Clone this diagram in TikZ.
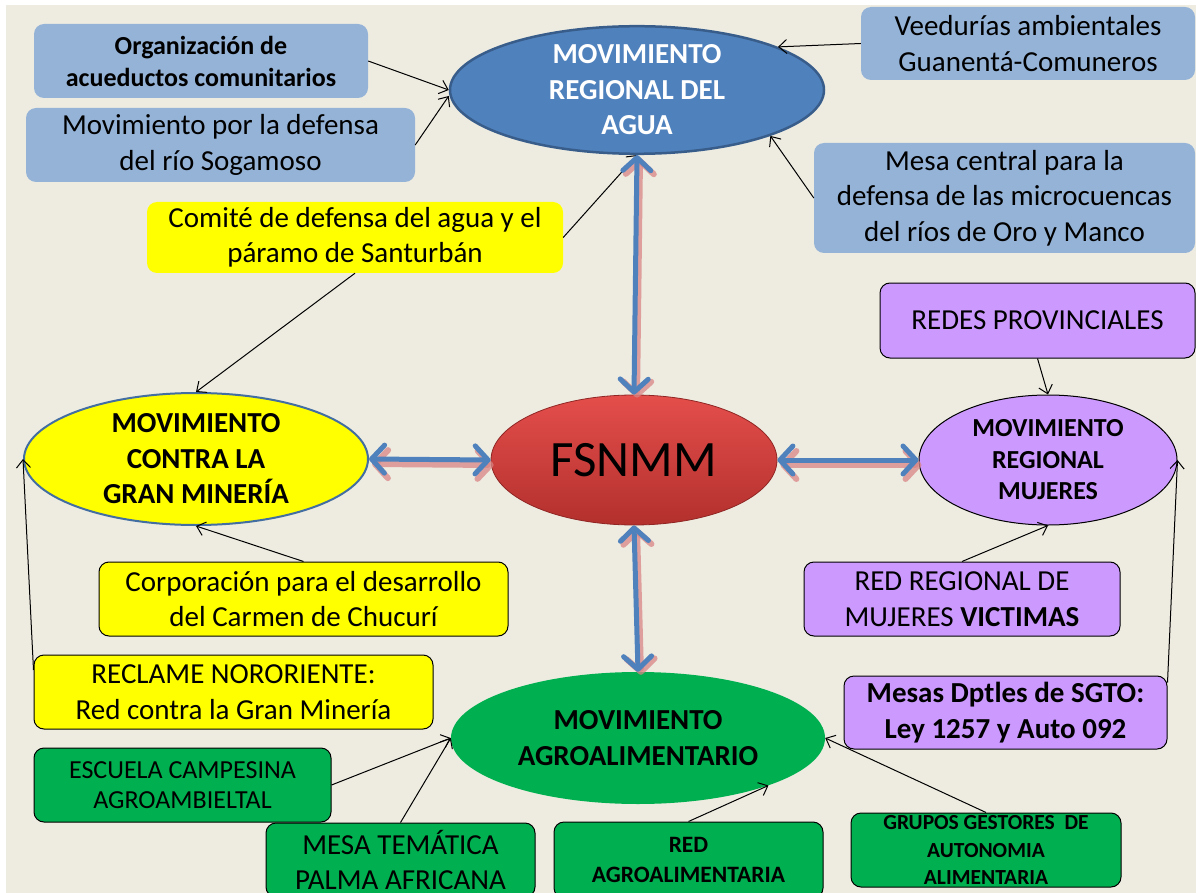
\documentclass[tikz,border=0pt]{standalone}
\usepackage{fontspec}
\setmainfont{Carlito}
\usetikzlibrary{shapes.geometric,arrows.meta}
\definecolor{bg}{HTML}{EEECE1}
\definecolor{lblue}{HTML}{95B3D7}
\definecolor{mblue}{HTML}{4F81BD}
\definecolor{dblue}{HTML}{385D8A}
\definecolor{ylw}{HTML}{FFFF00}
\definecolor{purp}{HTML}{CC99FF}
\definecolor{grn}{HTML}{00B050}
\definecolor{pinksh}{HTML}{D98585}
\definecolor{redtop}{HTML}{E44E4B}
\definecolor{redbot}{HTML}{B3302D}
\tikzset{
  box/.style={rectangle, rounded corners=10pt, align=center, inner sep=0pt},
  lbbox/.style={box, fill=lblue},
  ybox/.style={box, fill=ylw, draw=black, line width=1pt},
  pbox/.style={box, fill=purp, draw=black, line width=1pt},
  gbox/.style={box, fill=grn, draw=black, line width=1pt},
  ell/.style={ellipse, inner sep=0pt, align=center},
  reg/.style={font=\fontsize{29}{35.5}\selectfont},
  bld/.style={font=\fontsize{29}{35.5}\selectfont\bfseries},
  conn/.style={draw=black, line width=1pt, -{Straight Barb[length=8pt,width=14pt]}},
  dbl/.style={draw=mblue, line width=5pt, line cap=round,
     {Straight Barb[round,length=13pt,width=28pt]}-{Straight Barb[round,length=13pt,width=28pt]}},
  dblsh/.style={draw=pinksh, opacity=0.75, line width=6pt, line cap=round,
     {Straight Barb[round,length=13pt,width=28pt]}-{Straight Barb[round,length=13pt,width=28pt]}},
}
\begin{document}
\begin{tikzpicture}[x=1pt,y=-1pt]
\useasboundingbox (0,0) rectangle (1196,893);
\fill[white] (0,0) rectangle (1196,893);
\fill[bg] (6,5) rectangle (1196,893);

% ellipses
\node[ell, fill=mblue, draw=dblue, line width=2.5pt, minimum width=374pt, minimum height=126pt,
      text=white, bld] (agua) at (637,90) {MOVIMIENTO\\REGIONAL DEL\\AGUA};
\node[ell, top color=redtop, bottom color=redbot, draw=redbot!80!black, line width=0.8pt,
      minimum width=286pt, minimum height=130pt, font=\fontsize{51}{60}\selectfont] (fsnmm) at (634,460) {FSNMM};
\node[ell, fill=ylw, draw=mblue!85!black, line width=2pt, minimum width=344pt, minimum height=132pt, bld]
      (mineria) at (196,459) {MOVIMIENTO\\CONTRA LA\\GRAN MINERÍA};
\node[ell, fill=purp, draw=black, line width=1pt, minimum width=258pt, minimum height=130pt,
      font=\fontsize{26}{31.5}\selectfont\bfseries] (mujeres) at (1048,460) {MOVIMIENTO\\REGIONAL\\MUJERES};
\node[ell, fill=grn, minimum width=374pt, minimum height=132pt, bld] (agro) at (638,738)
      {MOVIMIENTO\\AGROALIMENTARIO};

% boxes
\node[lbbox, minimum width=334pt, minimum height=74pt, font=\fontsize{26}{32}\selectfont\bfseries]
      (org) at (201,61) {Organización de\\acueductos comunitarios};
\node[lbbox, minimum width=389pt, minimum height=74pt, reg] (sog) at (220.5,145)
      {Movimiento por la defensa\\del río Sogamoso};
\node[lbbox, minimum width=334pt, minimum height=73pt, reg] (vee) at (1028,43.5)
      {Veedurías ambientales\\Guanentá-Comuneros};
\node[lbbox, minimum width=381pt, minimum height=110pt, reg] (mesa) at (1004.5,198)
      {Mesa central para la\\defensa de las microcuencas\\del ríos de Oro y Manco};
\node[box, fill=ylw, minimum width=416pt, minimum height=71pt, reg] (comite) at (355,237.5)
      {Comité de defensa del agua y el\\páramo de Santurbán};
\node[pbox, minimum width=315pt, minimum height=75pt, reg] (redes) at (1037.5,320.5)
      {REDES PROVINCIALES};
\node[ybox, minimum width=409pt, minimum height=74pt, reg] (corp) at (303.5,599)
      {Corporación para el desarrollo\\del Carmen de Chucurí};
\node[pbox, minimum width=316pt, minimum height=74pt, reg] (redreg) at (962,599)
      {RED REGIONAL DE\\MUJERES \textbf{VICTIMAS}};
\node[ybox, minimum width=399pt, minimum height=74pt, reg] (reclame) at (233.5,692)
      {RECLAME NORORIENTE:\\Red contra la Gran Minería};
\node[pbox, minimum width=323pt, minimum height=73pt, bld] (mesas) at (1005.5,712.5)
      {Mesas Dptles de SGTO:\\Ley 1257 y Auto 092};
\node[gbox, minimum width=297pt, minimum height=74pt, font=\fontsize{26}{30}\selectfont] (escuela) at (182.5,785)
      {ESCUELA CAMPESINA\\AGROAMBIELTAL};
\node[gbox, minimum width=269pt, minimum height=74pt, reg] (mesatem) at (400.5,860)
      {MESA TEMÁTICA\\PALMA AFRICANA};
\node[gbox, minimum width=269pt, minimum height=76pt, font=\fontsize{23.5}{30}\selectfont\bfseries] (redagro) at (688.5,860)
      {RED\\AGROALIMENTARIA};
\node[gbox, minimum width=270pt, minimum height=74pt, font=\fontsize{21.5}{27.5}\selectfont\bfseries] (grupos) at (986,850)
      {GRUPOS GESTORES\ \ DE\\AUTONOMIA\\ALIMENTARIA};

% thin connectors
\draw[conn] (org.east) -- (agua.west);
\draw[conn] (sog.east) -- ([yshift=-6pt]agua.west);
\draw[conn] (vee.west) -- (agua.17.5);
\draw[conn] (mesa.west) -- (agua.-19);
\draw[conn] (comite.east) -- (agua.south);
\draw[conn] (comite.south) -- (mineria.north);
\draw[conn] (corp.north) -- (mineria.south);
\draw[conn] ([yshift=22pt]reclame.west) -- (mineria.west);
\draw[conn] (redes.south) -- (mujeres.north);
\draw[conn] (redreg.north) -- (mujeres.south);
\draw[conn] ([yshift=-7pt]mesas.north east) -- (mujeres.east);
\draw[conn] (escuela.east) -- (agro.west);
\draw[conn] (mesatem.north) -- (agro.west);
\draw[conn] (redagro.north) -- (agro.-20);
\draw[conn] (grupos.north) -- (agro.east);

% thick double arrows with shadow
\draw[dblsh] ([shift={(3,3)}]agua.south) -- ([shift={(3,3)}]fsnmm.north);
\draw[dblsh] ([shift={(3,5)}]mineria.east) -- ([shift={(3,5)}]fsnmm.west);
\draw[dblsh] ([shift={(3,5)}]fsnmm.east) -- ([shift={(3,5)}]mujeres.west);
\draw[dblsh] ([shift={(3,3)}]fsnmm.south) -- ([shift={(3,3)}]agro.north);
\draw[dbl] (agua.south) -- (fsnmm.north);
\draw[dbl] (mineria.east) -- (fsnmm.west);
\draw[dbl] (fsnmm.east) -- (mujeres.west);
\draw[dbl] (fsnmm.south) -- (agro.north);
\end{tikzpicture}
\end{document}
